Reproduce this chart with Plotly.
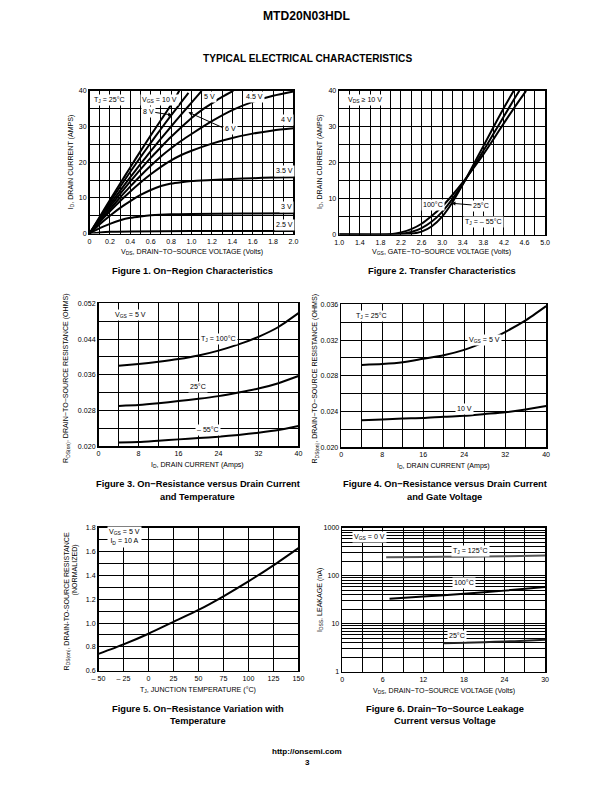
import plotly.graph_objects as go

W, H = 612, 792

# ---------------- DATA ----------------
f1_v_10 = [0, 0.1, 0.2, 0.3, 0.4, 0.5, 0.6, 0.7, 0.8, 0.88]
f1_i_10 = [0, 4.7, 9.4, 14.0, 18.6, 23.1, 27.5, 31.8, 36.1, 40]
f1_v_8 = [0, 0.1, 0.2, 0.3, 0.4, 0.5, 0.6, 0.7, 0.8, 0.9, 0.97]
f1_i_8 = [0, 4.4, 8.8, 13.1, 17.3, 21.4, 25.4, 29.3, 33.1, 36.8, 39.4]
f1_v_6 = [0, 0.1, 0.2, 0.3, 0.4, 0.5, 0.6, 0.7, 0.8, 0.9, 1.0, 1.1]
f1_i_6 = [0, 4.1, 8.1, 12.0, 15.8, 19.5, 23.1, 26.6, 30.0, 33.4, 36.7, 40]
f1_v_5 = [0, 0.1, 0.2, 0.3, 0.4, 0.5, 0.6, 0.7, 0.8, 0.9, 1.0, 1.1, 1.2, 1.3, 1.41]
f1_i_5 = [0, 3.8, 7.5, 11.1, 14.6, 18.0, 21.2, 24.2, 27.1, 29.8, 32.4, 34.6, 36.5, 38.3, 40]
f1_v_45 = [0, 0.1, 0.2, 0.3, 0.4, 0.5, 0.6, 0.7, 0.8, 0.9, 1.0, 1.2, 1.4, 1.6, 1.8, 2.0]
f1_i_45 = [0, 3.4, 6.8, 10.1, 13.2, 16.2, 19.0, 21.6, 23.9, 26.0, 27.9, 31.5, 34.6, 36.9, 38.6, 39.8]
f1_v_4 = [0, 0.1, 0.2, 0.3, 0.4, 0.5, 0.6, 0.7, 0.8, 0.9, 1.0, 1.2, 1.4, 1.6, 1.8, 2.0]
f1_i_4 = [0, 3.2, 6.2, 9.1, 11.8, 14.3, 16.6, 18.7, 20.5, 22.0, 23.2, 25.2, 26.8, 28.0, 28.9, 29.5]
f1_v_35 = [0, 0.1, 0.2, 0.3, 0.4, 0.5, 0.6, 0.7, 0.8, 0.9, 1.0, 1.2, 1.4, 1.6, 1.8, 2.0]
f1_i_35 = [0, 2.6, 5.0, 7.2, 9.1, 10.8, 12.2, 13.3, 14.0, 14.4, 14.7, 15.0, 15.3, 15.5, 15.7, 15.8]
f1_v_3 = [0, 0.1, 0.2, 0.3, 0.4, 0.5, 0.6, 0.8, 1.0, 1.5, 2.0]
f1_i_3 = [0, 1.5, 2.7, 3.7, 4.4, 4.8, 5.1, 5.4, 5.5, 5.6, 5.7]
f1_v_25 = [0, 0.1, 0.2, 0.4, 1.0, 2.0]
f1_i_25 = [0, 0.3, 0.5, 0.6, 0.7, 0.7]

f2_v_100 = [1.0, 1.8, 2.0, 2.2, 2.4, 2.6, 2.8, 3.0, 3.2, 3.4, 3.6, 3.8, 4.0, 4.2, 4.4, 4.63]
f2_i_100 = [0, 0, 0.1, 0.6, 1.5, 3.0, 5.2, 7.8, 11.0, 14.5, 18.3, 22.3, 26.6, 31.0, 35.3, 40]
f2_v_25 = [1.0, 2.0, 2.2, 2.4, 2.6, 2.8, 3.0, 3.2, 3.4, 3.6, 3.8, 4.0, 4.2, 4.4, 4.5]
f2_i_25 = [0, 0, 0.2, 0.7, 1.8, 3.6, 6.3, 9.9, 14.1, 18.6, 23.3, 28.1, 32.9, 37.7, 40]
f2_v_m55 = [1.0, 2.2, 2.4, 2.6, 2.8, 3.0, 3.2, 3.4, 3.6, 3.8, 4.0, 4.2, 4.39]
f2_i_m55 = [0, 0, 0.2, 0.8, 2.3, 5.0, 9.0, 13.9, 19.2, 24.6, 30.0, 35.3, 40]

f3_id = [4, 8, 12, 16, 20, 24, 28, 32, 36, 40]
f3_r_100 = [0.0380, 0.0384, 0.0389, 0.0395, 0.0403, 0.0414, 0.0428, 0.0445, 0.0467, 0.0498]
f3_r_25 = [0.0290, 0.0292, 0.0296, 0.0301, 0.0306, 0.0312, 0.0320, 0.0329, 0.0341, 0.0357]
f3_r_m55 = [0.0208, 0.0209, 0.0212, 0.0215, 0.0218, 0.0221, 0.0225, 0.0230, 0.0236, 0.0245]

f4_id = [4, 8, 12, 16, 20, 24, 28, 32, 36, 40]
f4_r_5 = [0.0292, 0.0293, 0.0295, 0.0299, 0.0303, 0.0309, 0.0318, 0.0329, 0.0342, 0.0358]
f4_r_10 = [0.0230, 0.0231, 0.0232, 0.02325, 0.0234, 0.0235, 0.0237, 0.0239, 0.0242, 0.0246]

f5_t = [-50, -25, 0, 25, 50, 75, 100, 125, 150]
f5_r = [0.74, 0.82, 0.91, 1.01, 1.11, 1.225, 1.35, 1.485, 1.63]

f6_v_125 = [6.5, 12, 18, 24, 30]
f6_i_125 = [245, 247, 250, 256, 265]
f6_v_100 = [7, 12, 18, 24, 30]
f6_i_100 = [33, 37, 42, 49, 58]
f6_v_25 = [15, 18, 21, 24, 27, 30]
f6_i_25 = [3.9, 4.0, 4.1, 4.25, 4.4, 4.6]

f1_xticks = [0, 0.2, 0.4, 0.6, 0.8, 1.0, 1.2, 1.4, 1.6, 1.8, 2.0]
f1_xtext = ["0", "0.2", "0.4", "0.6", "0.8", "1.0", "1.2", "1.4", "1.6", "1.8", "2.0"]
f1_yticks = [0, 10, 20, 30, 40]
f2_xticks = [1.0, 1.4, 1.8, 2.2, 2.6, 3.0, 3.4, 3.8, 4.2, 4.6, 5.0]
f2_xtext = ["1.0", "1.4", "1.8", "2.2", "2.6", "3.0", "3.4", "3.8", "4.2", "4.6", "5.0"]
f34_xticks = [0, 8, 16, 24, 32, 40]
f3_yticks = [0.020, 0.028, 0.036, 0.044, 0.052]
f3_ytext = ["0.020", "0.028", "0.036", "0.044", "0.052"]
f4_yticks = [0.020, 0.024, 0.028, 0.032, 0.036]
f4_ytext = ["0.020", "0.024", "0.028", "0.032", "0.036"]
f5_xticks = [-50, -25, 0, 25, 50, 75, 100, 125, 150]
f5_xtext = ["\u2013 50", "\u2013 25", "0", "25", "50", "75", "100", "125", "150"]
f5_yticks = [0.6, 0.8, 1.0, 1.2, 1.4, 1.6, 1.8]
f5_ytext = ["0.6", "0.8", "1.0", "1.2", "1.4", "1.6", "1.8"]
f6_xticks = [0, 6, 12, 18, 24, 30]
f6_yticks = [1, 10, 100, 1000]

# ---------------- FIGURE ----------------
FONT = "Liberation Sans, Arial, sans-serif"
BFONT = "Liberation Sans, Arial, sans-serif"

# the captured page shows the figure slightly reduced; map target pixels to figure pixels
SX, OX = 0.984, 4.0
SY, OY = 0.992, 3.0
FS = 1.012

def dx(px):
    return ((px - OX) / SX) / W

def dy(py):
    return 1 - ((py - OY) / SY) / H

fig = go.Figure()

def line(x, y, ax, color="black"):
    fig.add_trace(go.Scatter(x=x, y=y, xaxis="x" + ax, yaxis="y" + ax, mode="lines",
                             line=dict(color=color, width=2, shape="spline", smoothing=0.6),
                             hoverinfo="skip", showlegend=False))

for xs, ys in [(f1_v_10, f1_i_10), (f1_v_8, f1_i_8), (f1_v_6, f1_i_6), (f1_v_5, f1_i_5),
               (f1_v_45, f1_i_45), (f1_v_4, f1_i_4), (f1_v_35, f1_i_35), (f1_v_3, f1_i_3),
               (f1_v_25, f1_i_25)]:
    line(xs, ys, "")
for xs, ys in [(f2_v_100, f2_i_100), (f2_v_25, f2_i_25), (f2_v_m55, f2_i_m55)]:
    line(xs, ys, "2")
for ys in [f3_r_100, f3_r_25, f3_r_m55]:
    line(f3_id, ys, "3")
for ys in [f4_r_5, f4_r_10]:
    line(f4_id, ys, "4")
line(f5_t, f5_r, "5")
line(f6_v_125, f6_i_125, "6", color="#555555")
line(f6_v_100, f6_i_100, "6")
line(f6_v_25, f6_i_25, "6", color="#222222")

tickfont = dict(family=FONT, size=7 * FS, color="black")

def axis(px0, px1, rng, tickvals, ticktext, minor_dtick, anchor, typ="linear"):
    return dict(domain=[dx(px0), dx(px1)], range=rng, anchor=anchor,
                tickmode="array", tickvals=tickvals, ticktext=ticktext,
                showgrid=True, gridcolor="black", gridwidth=1,
                showline=True, linecolor="black", linewidth=1.5, mirror=True,
                ticks="", tickfont=tickfont, zeroline=False, fixedrange=True, type=typ,
                minor=dict(showgrid=True, gridcolor="black", gridwidth=1, dtick=minor_dtick))

def yaxis(py0, py1, rng, tickvals, ticktext, minor_dtick, anchor, typ="linear"):
    return dict(domain=[dy(py1), dy(py0)], range=rng, anchor=anchor,
                tickmode="array", tickvals=tickvals, ticktext=ticktext,
                showgrid=True, gridcolor="black", gridwidth=1,
                showline=True, linecolor="black", linewidth=1.5, mirror=True,
                ticks="", tickfont=tickfont, zeroline=False, fixedrange=True, type=typ,
                minor=dict(showgrid=True, gridcolor="black", gridwidth=1, dtick=minor_dtick))

layout = dict(
    width=W, height=H, autosize=False, margin=dict(l=0, r=0, t=0, b=0, pad=0),
    paper_bgcolor="white", plot_bgcolor="white", showlegend=False,
    xaxis=axis(87, 292, [0, 2.0], f1_xticks, f1_xtext, 0.1, "y"),
    yaxis=yaxis(90, 233, [0, 40], f1_yticks, [str(v) for v in f1_yticks], 5, "x"),
    xaxis2=axis(338, 545, [1.0, 5.0], f2_xticks, f2_xtext, 0.2, "y2"),
    yaxis2=yaxis(90, 234, [0, 40], f1_yticks, [str(v) for v in f1_yticks], 5, "x2"),
    xaxis3=axis(96, 297, [0, 40], f34_xticks, [str(v) for v in f34_xticks], 4, "y3"),
    yaxis3=yaxis(303, 446, [0.020, 0.052], f3_yticks, f3_ytext, 0.004, "x3"),
    xaxis4=axis(340, 546, [0, 40], f34_xticks, [str(v) for v in f34_xticks], 4, "y4"),
    yaxis4=yaxis(304, 447, [0.020, 0.036], f4_yticks, f4_ytext, 0.002, "x4"),
    xaxis5=axis(96, 297, [-50, 150], f5_xticks, f5_xtext, 25, "y5"),
    yaxis5=yaxis(528, 671, [0.6, 1.8], f5_yticks, f5_ytext, 0.1, "x5"),
    xaxis6=axis(341, 545, [0, 30], f6_xticks, [str(v) for v in f6_xticks], 3, "y6"),
    yaxis6=yaxis(528, 672, [0, 3], f6_yticks, [str(v) for v in f6_yticks], "D1", "x6", typ="log"),
)
fig.update_layout(**layout)

ann = []

def txt(x, y, s, xref="paper", yref="paper", size=7, bold=False, bg=None, angle=0,
        xanchor="center", yanchor="middle"):
    a = dict(x=x, y=y, xref=xref, yref=yref, text=s, showarrow=False,
             font=dict(family=BFONT if bold else FONT, size=size * FS, color="black"),
             xanchor=xanchor, yanchor=yanchor, textangle=angle)
    if bg:
        a["bgcolor"] = bg
        a["borderpad"] = 1
    ann.append(a)

def P(px, py, s, **kw):
    txt(dx(px), dy(py), s, **kw)

P(306, 15, "<b>MTD20N03HDL</b>", size=12, bold=True)
P(306, 58, "<b>TYPICAL ELECTRICAL CHARACTERISTICS</b>", size=10, bold=True)
P(306, 752, "<b>http://onsemi.com</b>", size=8, bold=True)
P(306, 763, "<b>3</b>", size=8, bold=True)

CS = 9.2
P(190, 271, "<b>Figure 1. On\u2212Region Characteristics</b>", size=CS, bold=True)
P(441, 271, "<b>Figure 2. Transfer Characteristics</b>", size=CS, bold=True)
P(196, 484, "<b>Figure 3. On\u2212Resistance versus Drain Current</b>", size=CS, bold=True)
P(196, 497, "<b>and Temperature</b>", size=CS, bold=True)
P(444, 484, "<b>Figure 4. On\u2212Resistance versus Drain Current</b>", size=CS, bold=True)
P(444, 497, "<b>and Gate Voltage</b>", size=CS, bold=True)
P(196, 709, "<b>Figure 5. On\u2212Resistance Variation with</b>", size=CS, bold=True)
P(196, 722, "<b>Temperature</b>", size=CS, bold=True)
P(444, 709, "<b>Figure 6. Drain\u2212To\u2212Source Leakage</b>", size=CS, bold=True)
P(444, 722, "<b>Current versus Voltage</b>", size=CS, bold=True)

P(190, 252, "V<sub>DS</sub>, DRAIN\u2212TO\u2212SOURCE VOLTAGE (Volts)", size=7)
P(441, 252, "V<sub>GS</sub>, GATE\u2212TO\u2212SOURCE VOLTAGE (Volts)", size=7)
P(196, 465, "I<sub>D</sub>, DRAIN CURRENT (Amps)", size=7)
P(443, 466, "I<sub>D</sub>, DRAIN CURRENT (Amps)", size=7)
P(196, 690, "T<sub>J</sub>, JUNCTION TEMPERATURE (\u00b0C)", size=7)
P(443, 691, "V<sub>DS</sub>, DRAIN\u2212TO\u2212SOURCE VOLTAGE (Volts)", size=7)

P(68, 161, "I<sub>D</sub>, DRAIN CURRENT (AMPS)", size=7, angle=-90)
P(318, 161, "I<sub>D</sub>, DRAIN CURRENT (AMPS)", size=7, angle=-90)
P(64, 378, "R<sub>DS(on)</sub>, DRAIN\u2212TO\u2212SOURCE RESISTANCE (OHMS)", size=7, angle=-90)
P(314, 378, "R<sub>DS(on)</sub>, DRAIN\u2212TO\u2212SOURCE RESISTANCE (OHMS)", size=7, angle=-90)
P(64, 602, "R<sub>DS(on)</sub>, DRAIN-TO-SOURCE RESISTANCE", size=7, angle=-90)
P(72, 570, "(NORMALIZED)", size=7, angle=-90)
P(318, 600, "I<sub>DSS</sub>, LEAKAGE (nA)", size=7, angle=-90)

def D(ax, x, y, s, **kw):
    txt(x, y, s, xref="x" + ax, yref="y" + ax, bg="white", size=7, **kw)

D("", 0.2, 37.5, "T<sub>J</sub> = 25\u00b0C")
D("", 0.69, 37.5, "V<sub>GS</sub> = 10 V")
D("", 1.18, 38.3, "5 V")
D("", 1.62, 38.3, "4.5 V")
D("", 1.93, 31.8, "4 V")
D("", 1.91, 17.5, "3.5 V")
D("", 1.93, 7.4, "3 V")
D("", 1.91, 2.3, "2.5 V")
D("", 0.58, 34.0, "8 V")
D("", 1.38, 29.3, "6 V")
ann.append(dict(x=0.81, y=33.2, ax=0.63, ay=34.0, xref="x", yref="y", axref="x", ayref="y",
                showarrow=True, arrowhead=2, arrowsize=0.8, arrowwidth=1, arrowcolor="black", text=""))
ann.append(dict(x=0.97, y=34.0, ax=1.32, ay=29.5, xref="x", yref="y", axref="x", ayref="y",
                showarrow=True, arrowhead=2, arrowsize=0.8, arrowwidth=1, arrowcolor="black", text=""))

D("2", 1.5, 37.5, "V<sub>DS</sub> \u2265 10 V")
D("2", 2.82, 8.3, "100\u00b0C")
D("2", 3.75, 8.0, "25\u00b0C")
D("2", 3.8, 3.6, "T<sub>J</sub> = \u2013 55\u00b0C")
ann.append(dict(x=3.18, y=8.7, ax=3.6, ay=8.2, xref="x2", yref="y2", axref="x2", ayref="y2",
                showarrow=True, arrowhead=2, arrowsize=0.8, arrowwidth=1, arrowcolor="black", text=""))

D("3", 6.5, 0.0495, "V<sub>GS</sub> = 5 V")
D("3", 24, 0.0440, "T<sub>J</sub> = 100\u00b0C")
D("3", 20, 0.0333, "25\u00b0C")
D("3", 22, 0.0236, "\u2013 55\u00b0C")

D("4", 6, 0.0347, "T<sub>J</sub> = 25\u00b0C")
D("4", 28, 0.0320, "V<sub>GS</sub> = 5 V")
D("4", 24, 0.0243, "10 V")

txt(-42, 1.72, "V<sub>GS</sub> = 5 V<br>I<sub>D</sub> = 10 A", xref="x5", yref="y5", bg="white",
    size=7, xanchor="left", yanchor="middle")

txt(4, 2.82, "V<sub>GS</sub> = 0 V", xref="x6", yref="y6", bg="white", size=7)
txt(19, 2.52, "T<sub>J</sub> = 125\u00b0C", xref="x6", yref="y6", bg="white", size=7)
txt(18, 1.85, "100\u00b0C", xref="x6", yref="y6", bg="white", size=7)
txt(17, 0.75, "25\u00b0C", xref="x6", yref="y6", bg="white", size=7)

fig.update_layout(annotations=ann)

post = ("document.body.style.margin='0px';document.body.style.padding='0px';"
        "document.body.style.overflow='hidden';"
        "document.documentElement.style.overflow='hidden';")
fig.write_html("out.html", config={"responsive": False, "displayModeBar": False,
                                   "staticPlot": True}, post_script=post)
